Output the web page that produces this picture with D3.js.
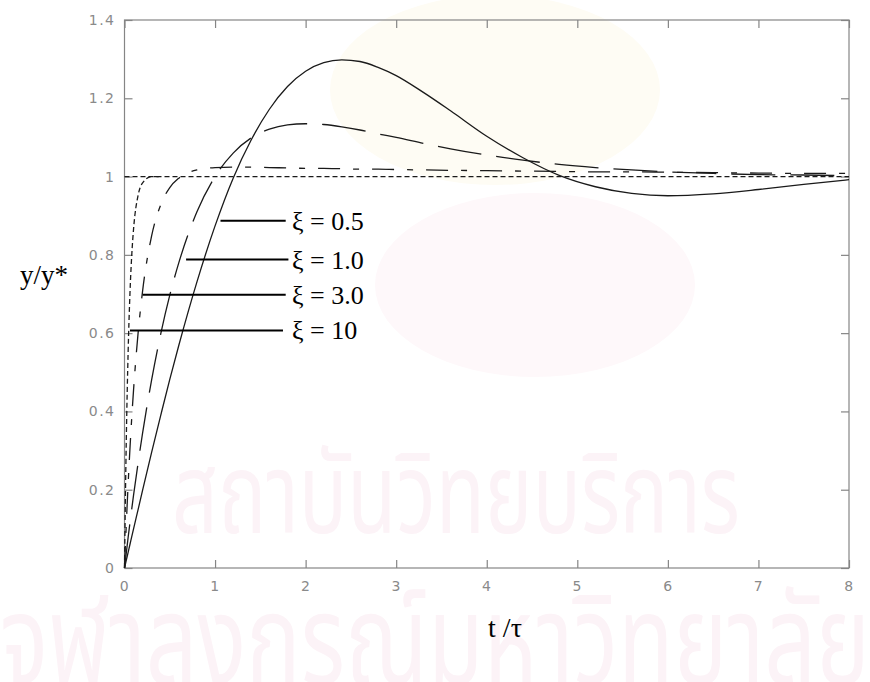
<!DOCTYPE html>
<html>
<head>
<meta charset="utf-8">
<script src="https://cdn.jsdelivr.net/npm/d3@7"></script>
<style>
  body { margin: 0; background: #fff; }
  svg { display: block; }
</style>
</head>
<body>
<svg id="chart" width="870" height="682"></svg>
<script>
// time axis (t / tau)
const tSteps = [0, 0.01, 0.02, 0.04, 0.06, 0.08, 0.1, 0.15, 0.2, 0.3, 0.4, 0.5, 0.6, 0.8, 1.0, 1.2, 1.4, 1.6, 1.8,
                2.0, 2.2, 2.4, 2.6, 2.8, 3.0, 3.3, 3.6, 4.0, 4.4, 4.8, 5.2, 5.6, 6.0, 6.5, 7.0, 7.5, 8.0];

// y / y* for each damping ratio
const xi05 = [0, 0.010, 0.020, 0.040, 0.060, 0.080, 0.100, 0.149, 0.199, 0.296, 0.390, 0.482, 0.569, 0.731, 0.874,
              0.996, 1.094, 1.172, 1.230, 1.269, 1.291, 1.298, 1.294, 1.279, 1.258, 1.215, 1.168, 1.103, 1.048,
              1.003, 0.974, 0.957, 0.951, 0.956, 0.967, 0.980, 0.992];
const xi10 = [0, 0.020, 0.039, 0.078, 0.115, 0.151, 0.186, 0.268, 0.345, 0.481, 0.598, 0.697, 0.780, 0.910, 1.000,
              1.060, 1.099, 1.121, 1.132, 1.135, 1.133, 1.127, 1.119, 1.109, 1.100, 1.085, 1.071, 1.055, 1.042,
              1.031, 1.023, 1.017, 1.012, 1.008, 1.005, 1.004, 1.002];
const xi30 = [0, 0.058, 0.113, 0.214, 0.304, 0.384, 0.455, 0.600, 0.708, 0.849, 0.928, 0.972, 0.996, 1.017, 1.023,
              1.024, 1.024, 1.023, 1.022, 1.021, 1.021, 1.020, 1.019, 1.019, 1.018, 1.017, 1.016, 1.015, 1.014,
              1.013, 1.012, 1.012, 1.011, 1.010, 1.009, 1.008, 1.008];

// xi = 10 settles almost at once, after that it sits on the set-point line
const tFast = [0, 0.01, 0.02, 0.04, 0.06, 0.08, 0.1, 0.15, 0.2, 0.3, 0.4];
const xi100 = [0, 0.181, 0.330, 0.551, 0.700, 0.799, 0.866, 0.952, 0.984, 1.000, 1.000];

const setT = [0, 8];
const setY = [1, 1];

const xTicks = [0, 1, 2, 3, 4, 5, 6, 7, 8];
const yTicks = [0, 0.2, 0.4, 0.6, 0.8, 1, 1.2, 1.4];

// annotations
const labelNames = ["ξ = 0.5", "ξ = 1.0", "ξ = 3.0", "ξ = 10"];
const labelY = [0.887, 0.788, 0.698, 0.607];
const labelStartT = [1.06, 0.68, 0.20, 0.06];
const labelEndT = [1.78, 1.81, 1.78, 1.75];
const labelTextT = 1.85;

const svg = d3.select("#chart");

// faint watermark behind the plot
const wm = svg.append("g").attr("class", "watermark");
wm.append("ellipse").attr("cx", 495).attr("cy", 90).attr("rx", 165).attr("ry", 95).attr("fill", "#fefcf4");
wm.append("ellipse").attr("cx", 535).attr("cy", 285).attr("rx", 160).attr("ry", 92).attr("fill", "#fef8fa");
wm.append("text")
    .attr("x", 172).attr("y", 533)
    .attr("textLength", 568).attr("lengthAdjust", "spacingAndGlyphs")
    .style("font-family", "'Noto Sans Thai', 'Noto Sans', sans-serif")
    .style("font-size", "112px")
    .attr("fill", "#fcf3f7")
    .text("สถาบันวิทยบริการ");
wm.append("text")
    .attr("x", 0).attr("y", 684)
    .attr("textLength", 870).attr("lengthAdjust", "spacingAndGlyphs")
    .style("font-family", "'Noto Sans Thai', 'Noto Sans', sans-serif")
    .style("font-size", "126px")
    .attr("fill", "#fcf3f7")
    .text("จุฬาลงกรณ์มหาวิทยาลัย");

const x = d3.scaleLinear().domain([0, 8]).range([124.5, 849]);
const y = d3.scaleLinear().domain([0, 1.4]).range([568, 20]);

const axisColor = "#858585";

// frame
svg.append("rect")
    .attr("x", x(0)).attr("y", y(1.4))
    .attr("width", x(8) - x(0)).attr("height", y(0) - y(1.4))
    .attr("fill", "none").attr("stroke", axisColor).attr("stroke-width", 1.2);

// axes with inward ticks, labels on bottom/left
function styleAxis(g) {
    g.select(".domain").remove();
    g.selectAll(".tick line").attr("stroke", axisColor).attr("stroke-width", 1.2);
    g.selectAll(".tick text")
        .attr("fill", "#8a8a8a")
        .style("font-family", "'DejaVu Sans', sans-serif")
        .style("font-size", "14px")
        .style("letter-spacing", "1.5px");
}

svg.append("g")
    .attr("transform", `translate(0,${y(0)})`)
    .call(d3.axisBottom(x).tickValues(xTicks).tickFormat(d3.format("d")).tickSizeInner(-8).tickPadding(13))
    .call(styleAxis);
svg.append("g")
    .attr("transform", `translate(0,${y(1.4)})`)
    .call(d3.axisTop(x).tickValues(xTicks).tickFormat("").tickSizeInner(-8))
    .call(styleAxis);
svg.append("g")
    .attr("transform", `translate(${x(0)},0)`)
    .call(d3.axisLeft(y).tickValues(yTicks).tickFormat(d => d3.format("")(+d.toFixed(1))).tickSizeInner(-8).tickPadding(9))
    .call(styleAxis);
svg.append("g")
    .attr("transform", `translate(${x(8)},0)`)
    .call(d3.axisRight(y).tickValues(yTicks).tickFormat("").tickSizeInner(-8))
    .call(styleAxis);

// curves
const line = d3.line()
    .x(d => x(d[0]))
    .y(d => y(d[1]))
    .curve(d3.curveMonotoneX);

const series = [
    { t: setT, v: setY, dash: "5,3" },
    { t: tFast, v: xi100, dash: "5,3" },
    { t: tSteps, v: xi30, dash: "22,13,6,13" },
    { t: tSteps, v: xi10, dash: "44,15" },
    { t: tSteps, v: xi05, dash: null }
];

svg.append("g")
    .selectAll("path")
    .data(series)
    .enter()
    .append("path")
    .attr("d", s => line(s.t.map((tt, i) => [tt, s.v[i]])))
    .attr("fill", "none")
    .attr("stroke", "#1a1a1a")
    .attr("stroke-width", 1.3)
    .attr("stroke-dasharray", s => s.dash);

// leader lines and labels
const ann = svg.append("g");
ann.selectAll("line")
    .data(labelNames)
    .enter()
    .append("line")
    .attr("x1", (d, i) => x(labelStartT[i]))
    .attr("x2", (d, i) => x(labelEndT[i]))
    .attr("y1", (d, i) => y(labelY[i]))
    .attr("y2", (d, i) => y(labelY[i]))
    .attr("stroke", "#000")
    .attr("stroke-width", 2);

ann.selectAll("text")
    .data(labelNames)
    .enter()
    .append("text")
    .attr("x", x(labelTextT))
    .attr("y", (d, i) => y(labelY[i]) + 9)
    .style("font-family", "'Liberation Serif', 'Times New Roman', serif")
    .style("font-size", "26px")
    .attr("fill", "#000")
    .text(d => d);

// axis titles
svg.append("text")
    .attr("x", 20).attr("y", 284)
    .style("font-family", "'Liberation Serif', 'Times New Roman', serif")
    .style("font-size", "27px")
    .attr("fill", "#000")
    .text("y/y*");

svg.append("text")
    .attr("x", 505).attr("y", 637)
    .attr("text-anchor", "middle")
    .style("font-family", "'Liberation Serif', 'Times New Roman', serif")
    .style("font-size", "28px")
    .attr("fill", "#000")
    .text("t /τ");
</script>
</body>
</html>
